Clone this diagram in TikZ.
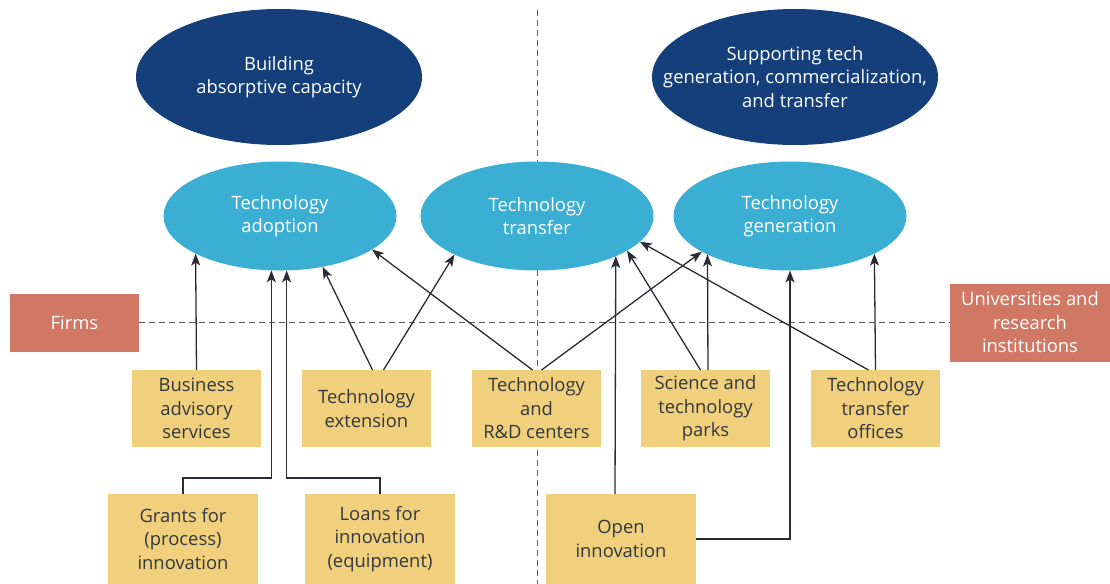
\documentclass[tikz,border=0pt]{standalone}
\usepackage{fontspec}
\setmainfont{Open Sans}
\usetikzlibrary{shapes.geometric,arrows.meta,positioning,backgrounds}
\definecolor{goaldark}{RGB}{20,63,122}
\definecolor{goallight}{RGB}{59,174,212}
\definecolor{actorred}{RGB}{208,120,100}
\definecolor{instyellow}{RGB}{241,208,125}
\definecolor{arrowgray}{RGB}{43,43,53}
\definecolor{textgray}{RGB}{51,55,62}

\begin{document}
\begin{tikzpicture}[
    x=0.5pt, y=-0.5pt,
    every node/.style={font=\fontsize{9.2}{11.75}\selectfont},
    goal/.style={ellipse, fill=goaldark, minimum width=143pt, minimum height=68pt, inner sep=0pt, outer sep=0pt},
    aim/.style={ellipse, fill=goallight, text=white, align=center, minimum width=116.5pt, minimum height=54.5pt, inner sep=0pt, outer sep=0pt},
    actor/.style={rectangle, fill=actorred, text=white, align=center, inner sep=0pt, outer sep=0pt},
    instr/.style={rectangle, fill=instyellow, text=textgray, align=center, minimum width=64.5pt, minimum height=38.5pt, inner sep=0pt, outer sep=0pt},
    instrbig/.style={instr, minimum width=75pt, minimum height=45pt},
    arrow/.style={draw=arrowgray, line width=0.65pt, -{Stealth[length=6pt,width=4.5pt,inset=1.5pt]}},
    divider/.style={draw=black!65, line width=0.5pt, dash pattern=on 3pt off 2pt}
]
\useasboundingbox (0,0) rectangle (1110,584);

% Goals
\node[goal, label={[text=white, align=center]center:{Building\\absorptive capacity}}] (absorb) at (279,77) {};
\node[goal, label={[text=white, align=center]center:{Supporting tech\\generation, commercialization,\\and transfer}}] (support) at (795,77) {};

% Objectives
\node[aim] (adopt) at (280,216) {Technology\\adoption};
\node[aim] (transfer) at (537,216) {Technology\\transfer};
\node[aim] (gen) at (790,216) {Technology\\generation};

% Actors
\node[actor, minimum width=64.5pt, minimum height=29pt] (firms) at (74.5,322.5) {Firms};
\node[actor, minimum width=80pt, minimum height=39pt] (unis) at (1030,322.5) {Universities and\\research\\institutions};

% Instruments
\node[instr] (bas) at (196.5,408.5) {Business\\advisory\\services};
\node[instr] (ext) at (366.5,408.5) {Technology\\extension};
\node[instr] (rdc) at (536.5,408.5) {Technology\\and\\R\&D centers};
\node[instr] (stp) at (705.5,408.5) {Science and\\technology\\parks};
\node[instr] (tto) at (875.5,408.5) {Technology\\transfer\\offices};
\node[instrbig] (grants) at (183,539) {Grants for\\(process)\\innovation};
\node[instrbig] (loans) at (380,539) {Loans for\\innovation\\(equipment)};
\node[instrbig] (open) at (621,539) {Open\\innovation};

% Dividers
\coordinate (vtop) at (537,10);
\coordinate (vbot) at (537,584);
\begin{scope}[on background layer]
\draw[divider] (vtop) -- (vbot);
\draw[divider] (firms.east) -- (unis.west);
\end{scope}

% Firm-side links
\draw[arrow] (bas.north) -- (adopt.204.2);
\draw[arrow] (grants.north) -- ++(0,-16) -| (adopt.261.6);
\draw[arrow] (loans.north) -- ++(0,-16) -| (adopt.277.3);
\draw[arrow] ([xshift=3pt]ext.north) -- (adopt.310);
\draw[arrow] ([xshift=8.5pt]ext.north) -- (transfer.205.8);
\draw[arrow] ([xshift=-2pt]rdc.north) -- (adopt.340);
\draw[arrow] ([xshift=2.5pt]rdc.north) -- (gen.202.6);

% Research-side links
\draw[arrow] ([xshift=-2.5pt]stp.north) -- (transfer.339);
\draw[arrow] ([xshift=1.25pt]stp.north) -- (gen.205.3);
\draw[arrow] ([xshift=-3pt]open.north) -- (transfer.333.7);
\draw[arrow] (open.east) -| (gen.south);
\draw[arrow] ([xshift=-3.5pt]tto.north) -- (transfer.346.7);
\draw[arrow] (tto.north) -- (gen.336.3);

\end{tikzpicture}
\end{document}
